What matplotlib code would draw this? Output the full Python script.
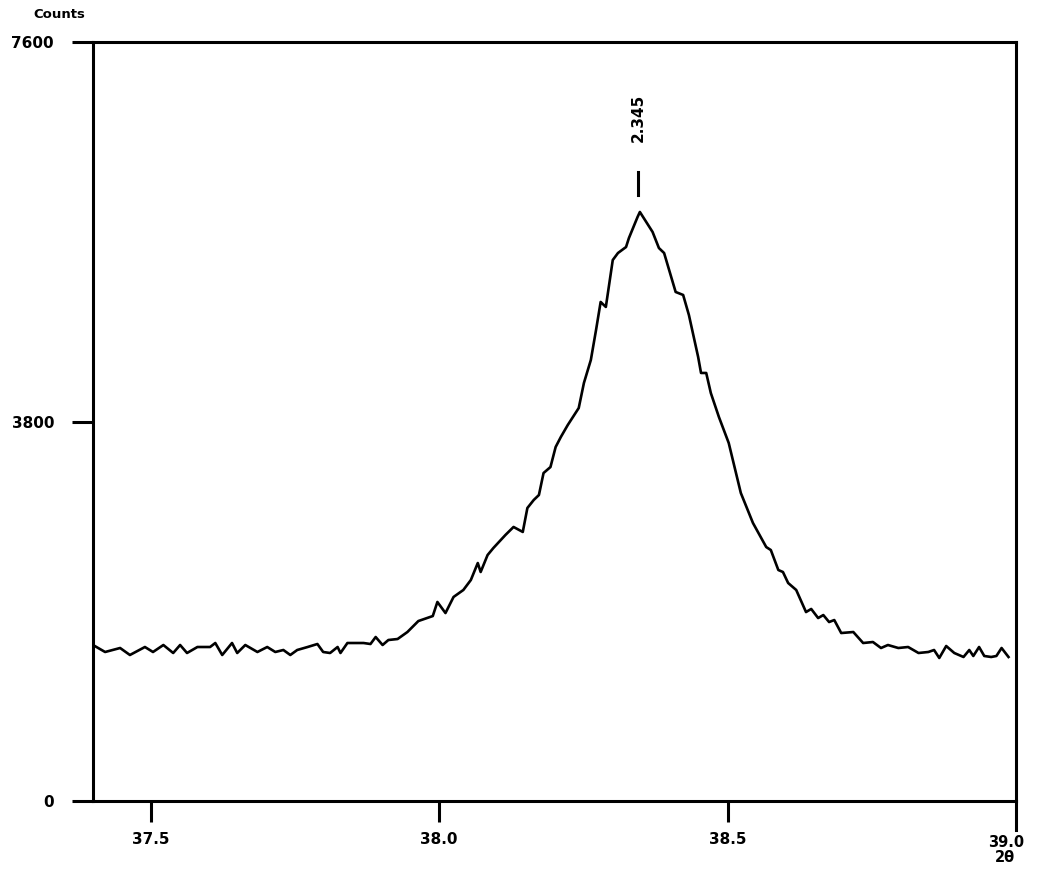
import matplotlib
matplotlib.use("Agg")
import matplotlib.pyplot as plt
import matplotlib.transforms as mtransforms

two_theta = [37.400, 37.421, 37.447, 37.464, 37.490, 37.504, 37.522, 37.539, 37.551, 37.563,
             37.581, 37.603, 37.612, 37.624, 37.641, 37.650, 37.664, 37.685, 37.702, 37.716,
             37.730, 37.742, 37.754, 37.772, 37.789, 37.799, 37.811, 37.824, 37.829, 37.841,
             37.869, 37.881, 37.890, 37.902, 37.912, 37.928, 37.945, 37.964, 37.989, 37.997,
             38.011, 38.025, 38.042, 38.055, 38.067, 38.072, 38.084, 38.094, 38.115, 38.129,
             38.145, 38.153, 38.164, 38.173, 38.181, 38.193, 38.202, 38.211, 38.223, 38.242,
             38.251, 38.263, 38.272, 38.280, 38.289, 38.301, 38.310, 38.324, 38.329, 38.344,
             38.348, 38.370, 38.381, 38.390, 38.410, 38.423, 38.433, 38.449, 38.454, 38.463,
             38.471, 38.485, 38.502, 38.523, 38.544, 38.567, 38.575, 38.588, 38.596, 38.605,
             38.619, 38.636, 38.645, 38.657, 38.666, 38.676, 38.685, 38.697, 38.718, 38.735,
             38.752, 38.766, 38.778, 38.796, 38.813, 38.831, 38.848, 38.858, 38.867, 38.879,
             38.893, 38.909, 38.919, 38.926, 38.936, 38.945, 38.957, 38.966, 38.975, 38.987]
counts = [1562, 1492, 1532, 1462, 1542, 1492, 1562, 1482, 1562, 1482,
          1542, 1542, 1582, 1462, 1582, 1482, 1562, 1492, 1542, 1492,
          1512, 1462, 1512, 1542, 1572, 1492, 1482, 1542, 1482, 1582,
          1582, 1572, 1642, 1562, 1612, 1622, 1692, 1802, 1852, 1993,
          1882, 2043, 2113, 2213, 2383, 2293, 2463, 2533, 2664, 2744,
          2694, 2934, 3014, 3064, 3284, 3344, 3545, 3645, 3765, 3935,
          4186, 4416, 4716, 4997, 4947, 5417, 5487, 5547, 5637, 5848,
          5898, 5698, 5537, 5487, 5097, 5067, 4866, 4446, 4286, 4286,
          4085, 3845, 3585, 3084, 2784, 2543, 2513, 2313, 2293, 2183,
          2113, 1892, 1923, 1832, 1862, 1792, 1812, 1682, 1692, 1582,
          1592, 1532, 1562, 1532, 1542, 1482, 1492, 1512, 1432, 1552,
          1482, 1442, 1512, 1452, 1542, 1452, 1442, 1452, 1532, 1442]

x_ticks = [37.5, 38.0, 38.5]
x_tick_labels = ["37.5", "38.0", "38.5"]
y_ticks = [0, 3800, 7600]
y_tick_labels = ["0", "3800", "7600"]
peak_pos = 38.345
peak_label = "2.345"

plt.rcParams['font.family'] = ['DejaVu Sans']
plt.rcParams['font.weight'] = 'bold'

fig = plt.figure(figsize=(10.43, 8.75), dpi=100)
ax = fig.add_axes([93/1043, 74/875, 923/1043, 759/875])

ax.plot(two_theta, counts, color='black', lw=1.9)

ax.set_xlim(37.4, 39.0)
ax.set_ylim(0, 7600)
ax.set_xticks(x_ticks)
ax.set_xticklabels(x_tick_labels, fontsize=11, fontweight='bold')
ax.set_yticks(y_ticks)
ax.set_yticklabels(y_tick_labels, fontsize=11, fontweight='bold')
ax.tick_params(axis='x', direction='out', length=15, width=2.2, pad=7)
ax.tick_params(axis='y', direction='out', length=15, width=2.2, pad=13)
for s in ax.spines.values():
    s.set_linewidth(2.2)

# peak marker and label
ax.plot([peak_pos, peak_pos], [6070, 6300], color='black', lw=2.2)
ax.text(peak_pos, 6600, peak_label, rotation=90, ha='center', va='bottom',
        fontsize=11, fontweight='bold')

# right end of axis: extended spine and 39.0 / 2θ label
trans = mtransforms.blended_transform_factory(ax.transData, ax.transAxes)
ax.plot([39.0, 39.0], [0, -0.038], color='black', lw=2.2, transform=trans, clip_on=False)
ax.text(38.983, -0.045, "39.0", ha='center', va='top', fontsize=10.5, fontweight='bold',
        transform=trans)
ax.text(38.981, -0.065, "2θ", ha='center', va='top', fontsize=10.5, fontweight='bold',
        transform=trans)

fig.text(33/1043, 1 - 14/875, "Counts", ha='left', va='center', fontsize=9.5, fontweight='bold')

fig.savefig("out.png", dpi=100)
